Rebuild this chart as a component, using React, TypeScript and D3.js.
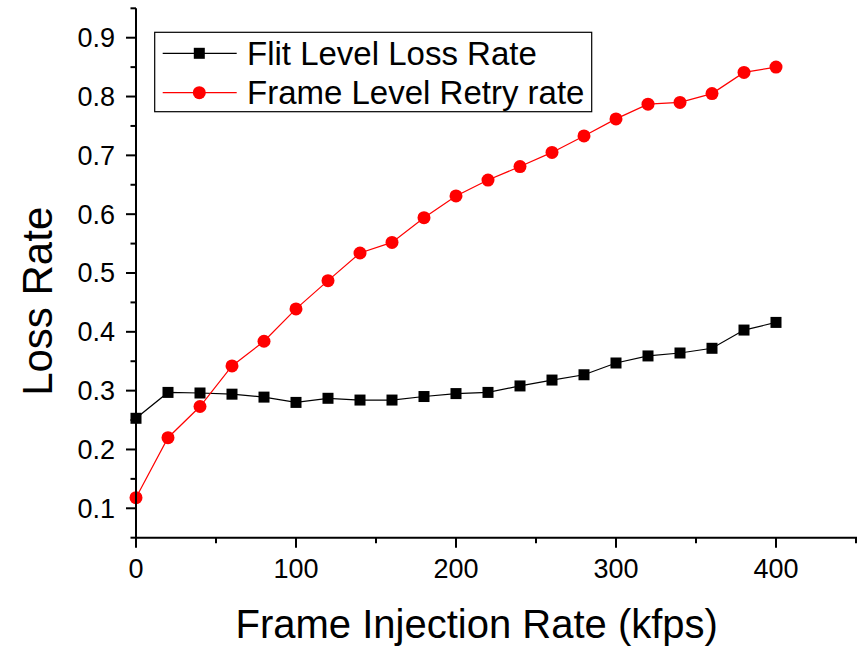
import React from "react";
import * as d3 from "d3";

// injection rate (kfps)
const rates = [0, 20, 40, 60, 80, 100, 120, 140, 160, 180, 200, 220, 240, 260, 280, 300, 320, 340, 360, 380, 400];

const flitLoss = [0.253, 0.297, 0.296, 0.294, 0.289, 0.28, 0.287, 0.284, 0.284, 0.29, 0.295, 0.297, 0.308, 0.318, 0.327, 0.347, 0.359, 0.364, 0.372, 0.403, 0.416];
const frameRetry = [0.118, 0.22, 0.273, 0.342, 0.384, 0.439, 0.487, 0.534, 0.552, 0.594, 0.631, 0.658, 0.681, 0.705, 0.733, 0.762, 0.787, 0.79, 0.805, 0.841, 0.85];

const xTicks = [0, 100, 200, 300, 400];
const xMinor = [50, 150, 250, 350, 450];
const yTicks = [0.1, 0.2, 0.3, 0.4, 0.5, 0.6, 0.7, 0.8, 0.9];
const yMinor = [0.05, 0.15, 0.25, 0.35, 0.45, 0.55, 0.65, 0.75, 0.85, 0.95];

const seriesNames = ["Flit Level Loss Rate", "Frame Level Retry rate"];

const W = 862;
const H = 648;
const FONT = "'Liberation Sans', Arial, sans-serif";

export default function App() {
  const x = d3.scaleLinear().domain([0, 450]).range([136, 856]);
  const y = d3.scaleLinear().domain([0.05, 0.95]).range([537.7, 8.3]);

  const line = d3
    .line<number>()
    .x((_, i) => x(rates[i]))
    .y((d) => y(d));

  const sq = 11;
  const r = 6.5;

  return (
    <svg
      width={W}
      height={H}
      style={{ position: "absolute", left: 0, top: 0, background: "#fff" }}
      fontFamily={FONT}
    >
      {/* series lines */}
      <path d={line(flitLoss) || ""} fill="none" stroke="#000" strokeWidth={1.2} />
      <path d={line(frameRetry) || ""} fill="none" stroke="#ff0000" strokeWidth={1.2} />

      {flitLoss.map((v, i) => (
        <rect key={"s" + i} x={x(rates[i]) - sq / 2} y={y(v) - sq / 2} width={sq} height={sq} fill="#000" />
      ))}
      {frameRetry.map((v, i) => (
        <circle key={"c" + i} cx={x(rates[i])} cy={y(v)} r={r} fill="#ff0000" />
      ))}

      {/* axes */}
      <line x1={x(0)} x2={x(0)} y1={y(0.95)} y2={y(0.05) + 1} stroke="#000" strokeWidth={2} />
      <line x1={x(0) - 1} x2={x(450) + 1} y1={y(0.05)} y2={y(0.05)} stroke="#000" strokeWidth={2} />

      {yTicks.map((t) => (
        <g key={"yt" + t}>
          <line x1={x(0) - 10} x2={x(0)} y1={y(t)} y2={y(t)} stroke="#000" strokeWidth={2} />
          <text x={115} y={y(t)} dy="0.35em" textAnchor="end" fontSize={27}>
            {t.toFixed(1)}
          </text>
        </g>
      ))}
      {yMinor.map((t) => (
        <line key={"ym" + t} x1={x(0) - 5.5} x2={x(0)} y1={y(t)} y2={y(t)} stroke="#000" strokeWidth={2} />
      ))}

      {xTicks.map((t) => (
        <g key={"xt" + t}>
          <line x1={x(t)} x2={x(t)} y1={y(0.05)} y2={y(0.05) + 10} stroke="#000" strokeWidth={2} />
          <text x={x(t)} y={578} textAnchor="middle" fontSize={27}>
            {t}
          </text>
        </g>
      ))}
      {xMinor.map((t) => (
        <line key={"xm" + t} x1={x(t)} x2={x(t)} y1={y(0.05)} y2={y(0.05) + 5.5} stroke="#000" strokeWidth={2} />
      ))}

      {/* axis titles */}
      <text x={476.7} y={638} textAnchor="middle" fontSize={40}>
        Frame Injection Rate (kfps)
      </text>
      <text transform="translate(52,301.3) rotate(-90)" textAnchor="middle" fontSize={42}>
        Loss Rate
      </text>

      {/* legend */}
      <rect x={154.7} y={32.3} width={437} height={79.4} fill="#fff" stroke="#000" strokeWidth={1.2} />
      {seriesNames.map((name, i) => {
        const ly = 53.3 + i * 39.4;
        return (
          <g key={name}>
            <line x1={162.7} x2={236.7} y1={ly} y2={ly} stroke={i === 0 ? "#000" : "#ff0000"} strokeWidth={1.2} />
            {i === 0 ? (
              <rect x={199.3 - sq / 2} y={ly - sq / 2} width={sq} height={sq} fill="#000" />
            ) : (
              <circle cx={199.3} cy={ly} r={r} fill="#ff0000" />
            )}
            <text x={247} y={ly + 11.5} fontSize={33}>
              {name}
            </text>
          </g>
        );
      })}
    </svg>
  );
}
